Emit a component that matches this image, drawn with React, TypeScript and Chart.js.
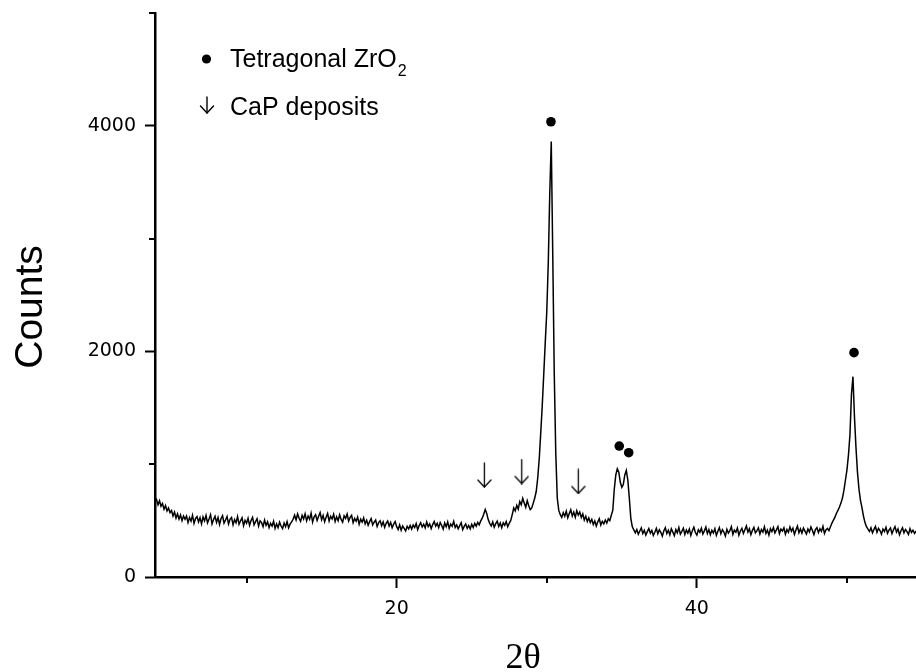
import React, { useEffect, useRef } from "react";
import { Chart, registerables } from "chart.js";

Chart.register(...registerables);

// XRD step scan: start angle, step (degrees 2θ), and counts per step
const scanStart = 3.9;
const scanStep = 0.1;
const counts = [
  705,
  688, 640, 676, 628, 652, 601, 633, 585, 612, 571, // 4
  590, 541, 576, 522, 560, 513, 549, 500, 541, 512, // 5
  540, 482, 527, 495, 548, 476, 519, 535, 488, 526, // 6
  471, 532, 497, 545, 480, 514, 552, 470, 509, 538, // 7
  484, 527, 466, 519, 543, 478, 505, 536, 469, 511, // 8
  528, 462, 509, 481, 536, 467, 498, 524, 455, 503, // 9
  476, 521, 458, 500, 529, 463, 491, 517, 451, 498, // 10
  482, 446, 505, 458, 489, 437, 476, 452, 494, 431, // 11
  471, 438, 486, 452, 429, 478, 445, 491, 436, 469, // 12
  488, 512, 548, 506, 559, 521, 493, 547, 515, 561, // 13
  498, 541, 512, 566, 487, 533, 552, 501, 539, 571, // 14
  508, 546, 489, 529, 563, 497, 538, 515, 557, 492, // 15
  534, 499, 552, 511, 486, 543, 520, 558, 497, 528, // 16
  547, 482, 519, 494, 531, 468, 512, 486, 524, 471, // 17
  503, 459, 491, 517, 462, 486, 505, 448, 482, 498, // 18
  455, 489, 441, 476, 497, 452, 483, 437, 468, 491, // 19
  446, 421, 463, 415, 452, 432, 408, 449, 427, 458, // 20
  425, 461, 438, 474, 419, 456, 482, 443, 467, 436, // 21
  488, 447, 471, 429, 465, 492, 451, 476, 438, 483, // 22
  457, 425, 479, 446, 488, 431, 469, 450, 493, 439, // 23
  462, 427, 455, 481, 419, 448, 470, 431, 457, 426, // 24
  468, 439, 476, 451, 484, 462, 497, 521, 556, 598, // 25
  563, 509, 476, 452, 488, 441, 473, 496, 448, 479, // 26
  437, 481, 459, 492, 446, 476, 502, 553, 612, 586, // 27
  635, 602, 668, 641, 697, 655, 618, 677, 632, 598, // 28
  612, 655, 700, 760, 880, 1050, 1280, 1520, 1800, 2080, // 29
  2350, 2780, 3400, 3860, 2850, 1800, 1100, 700, 590, 552, // 30
  528, 571, 539, 583, 524, 562, 596, 541, 575, 530, // 31
  588, 549, 576, 527, 559, 505, 538, 492, 524, 483, // 32
  511, 466, 497, 452, 489, 516, 461, 493, 472, 505, // 33
  478, 516, 499, 548, 592, 780, 905, 960, 930, 840, // 34
  795, 820, 905, 945, 860, 700, 520, 445, 418, 392, // 35
  421, 379, 408, 436, 385, 414, 371, 402, 429, 388, // 36
  412, 368, 397, 431, 383, 418, 395, 362, 409, 437, // 37
  386, 415, 374, 427, 398, 366, 421, 392, 438, 380, // 38
  405, 433, 377, 416, 389, 425, 368, 411, 441, 394, // 39
  372, 418, 397, 432, 381, 409, 443, 386, 420, 375, // 40
  414, 391, 428, 369, 406, 437, 384, 419, 398, 362, // 41
  423, 389, 411, 446, 378, 415, 397, 434, 370, 408, // 42
  431, 386, 419, 452, 398, 427, 375, 413, 440, 392, // 43
  409, 436, 381, 420, 398, 445, 387, 416, 371, 428, // 44
  402, 439, 391, 418, 447, 384, 425, 408, 436, 379, // 45
  421, 396, 444, 405, 432, 378, 417, 451, 392, 426, // 46
  389, 434, 407, 381, 426, 399, 443, 412, 376, 420, // 47
  437, 395, 428, 404, 449, 386, 418, 431, 411, 445, // 48
  478, 505, 530, 565, 590, 620, 655, 700, 770, 860, // 49
  950, 1080, 1260, 1620, 1776, 1420, 1150, 930, 780, 680, // 50
  615, 540, 482, 446, 425, 404, 437, 391, 422, 448, // 51
  396, 431, 412, 379, 425, 403, 440, 388, 416, 434, // 52
  385, 419, 447, 398, 426, 374, 410, 437, 392, 421, // 53
  403, 378, 429, 395, 414, 386, 408, // 54
];

// Peak markers
const zro2Angles = [30.28, 34.83, 35.46, 50.47];
const zro2Marks = [4036, 1161, 1102, 1989];
const capAngles = [25.84, 28.33, 32.1];
const capMarks = [904, 935, 847];

// Axes
const xMin = 3.9;
const xMax = 54.6;
const yMin = 0;
const yMax = 5000;
const xTickValues = [10, 20, 30, 40, 50];
const xLabelled = [20, 40];
const yTickValues = [0, 1000, 2000, 3000, 4000, 5000];
const yLabelled = [0, 2000, 4000];

const xTitle = "2θ";
const yTitle = "Counts";
const legendZrO2 = "Tetragonal ZrO";
const legendZrO2Sub = "2";
const legendCaP = "CaP deposits";

function makeArrow(w: number, h: number, lw: number, head: number) {
  const c = document.createElement("canvas");
  c.width = w;
  c.height = h;
  const g = c.getContext("2d")!;
  drawArrow(g, w / 2, 1, h - 2, w / 2 - 1, head, lw);
  return c;
}

function drawArrow(g: CanvasRenderingContext2D, cx: number, top: number, len: number, half: number, head: number, lw: number) {
  g.save();
  g.strokeStyle = "#000";
  g.lineWidth = lw;
  g.lineCap = "round";
  g.lineJoin = "round";
  g.beginPath();
  g.moveTo(cx, top);
  g.lineTo(cx, top + len);
  g.stroke();
  g.beginPath();
  g.moveTo(cx - half, top + len - head);
  g.lineTo(cx, top + len);
  g.lineTo(cx + half, top + len - head);
  g.stroke();
  g.restore();
}

export default function App() {
  const ref = useRef<HTMLCanvasElement | null>(null);

  useEffect(() => {
    const canvas = ref.current;
    if (!canvas) return;

    const pattern = counts.map((c, i) => ({ x: +(scanStart + i * scanStep).toFixed(2), y: c }));
    const dots = zro2Angles.map((x, i) => ({ x, y: zro2Marks[i] }));
    const arrows = capAngles.map((x, i) => ({ x, y: capMarks[i] }));
    const arrowImg = makeArrow(15, 26, 1.3, 7);

    const overlay = {
      id: "overlay",
      afterDraw(chart: any) {
        const g = chart.ctx as CanvasRenderingContext2D;
        const xs = chart.scales.x;
        const ys = chart.scales.y;
        const area = chart.chartArea;
        g.save();
        g.strokeStyle = "#000";
        g.lineWidth = 2;
        // minor ticks
        xTickValues.forEach((v) => {
          if (xLabelled.includes(v)) return;
          const px = Math.round(xs.getPixelForValue(v));
          g.beginPath();
          g.moveTo(px, area.bottom);
          g.lineTo(px, area.bottom + 6);
          g.stroke();
        });
        yTickValues.forEach((v) => {
          if (yLabelled.includes(v)) return;
          const py = Math.round(ys.getPixelForValue(v));
          g.beginPath();
          g.moveTo(area.left, py);
          g.lineTo(area.left - 6, py);
          g.stroke();
        });
        // axis titles
        g.fillStyle = "#000";
        g.font = "39px 'Liberation Sans', Arial, sans-serif";
        g.textAlign = "center";
        g.textBaseline = "alphabetic";
        g.save();
        g.translate(42, 307);
        g.rotate(-Math.PI / 2);
        g.fillText(yTitle, 0, 0);
        g.restore();
        g.font = "36px 'Liberation Serif', 'Times New Roman', serif";
        g.fillText(xTitle, 523, 668);
        // legend
        g.beginPath();
        g.arc(206.5, 59, 4.6, 0, Math.PI * 2);
        g.fill();
        g.textAlign = "left";
        g.font = "25px 'Liberation Sans', Arial, sans-serif";
        g.fillText(legendZrO2, 230, 67);
        const w = g.measureText(legendZrO2).width;
        g.font = "16px 'Liberation Sans', Arial, sans-serif";
        g.fillText(legendZrO2Sub, 230 + w + 1, 76);
        drawArrow(g, 207, 97, 16, 6.5, 7, 1.4);
        g.font = "25px 'Liberation Sans', Arial, sans-serif";
        g.fillText(legendCaP, 230, 115);
        g.restore();
      },
    };

    const chart = new Chart(canvas, {
      type: "scatter",
      data: {
        datasets: [
          {
            label: "ZrO2",
            data: dots,
            pointStyle: "circle",
            pointRadius: 4.8,
            backgroundColor: "#000",
            borderColor: "#000",
            borderWidth: 0,
            showLine: false,
            order: 0,
          } as any,
          {
            label: "CaP",
            data: arrows,
            pointStyle: arrowImg,
            pointRadius: 10,
            showLine: false,
            order: 1,
          } as any,
          {
            label: "pattern",
            data: pattern,
            showLine: true,
            borderColor: "#000",
            borderWidth: 1.5,
            pointRadius: 0,
            tension: 0,
            order: 2,
          } as any,
        ],
      },
      options: {
        animation: false,
        responsive: false,
        events: [],
        layout: { autoPadding: false, padding: { top: 13, right: 0, left: 0, bottom: 0 } },
        plugins: { legend: { display: false }, tooltip: { enabled: false } },
        scales: {
          x: {
            type: "linear",
            min: xMin,
            max: xMax,
            afterBuildTicks: (s: any) => {
              s.ticks = xTickValues.map((value) => ({ value }));
            },
            afterFit: (s: any) => {
              s.height = 95;
              s.paddingLeft = 0;
              s.paddingRight = 0;
            },
            grid: {
              drawOnChartArea: false,
              drawTicks: true,
              tickLength: 11,
              tickWidth: 2,
              tickColor: (ctx: any) => (ctx.tick && xLabelled.includes(ctx.tick.value) ? "#000" : "rgba(0,0,0,0)"),
            },
            border: { display: true, color: "#000", width: 2.5 },
            ticks: {
              autoSkip: false,
              maxRotation: 0,
              padding: 10,
              color: "#000",
              font: { family: "'DejaVu Sans', sans-serif", size: 19 },
              callback: (v: any) => (xLabelled.includes(Number(v)) ? String(v) : ""),
            },
          },
          y: {
            type: "linear",
            min: yMin,
            max: yMax,
            afterBuildTicks: (s: any) => {
              s.ticks = yTickValues.map((value) => ({ value }));
            },
            afterFit: (s: any) => {
              s.width = 155;
              s.paddingTop = 0;
              s.paddingBottom = 0;
            },
            grid: {
              drawOnChartArea: false,
              drawTicks: true,
              tickLength: 10,
              tickWidth: 2,
              tickColor: (ctx: any) => (ctx.tick && yLabelled.includes(ctx.tick.value) ? "#000" : "rgba(0,0,0,0)"),
            },
            border: { display: true, color: "#000", width: 2.5 },
            ticks: {
              autoSkip: false,
              padding: 9,
              color: "#000",
              font: { family: "'DejaVu Sans', sans-serif", size: 19 },
              callback: (v: any) => (yLabelled.includes(Number(v)) ? String(v) : ""),
            },
          },
        },
      } as any,
      plugins: [overlay],
    });

    return () => chart.destroy();
  }, []);

  return (
    <div style={{ position: "fixed", left: 0, top: 0, width: 916, height: 672, background: "#fff" }}>
      <canvas ref={ref} width={916} height={672} style={{ width: 916, height: 672, display: "block" }} />
    </div>
  );
}
